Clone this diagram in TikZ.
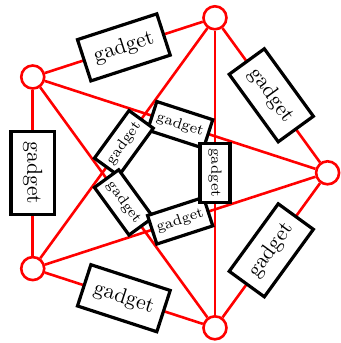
\documentclass[tikz,border=0pt]{standalone}
\usetikzlibrary{calc}
\begin{document}
\begin{tikzpicture}[x=1pt,y=1pt,
  vertex/.style={circle,draw=red,line width=1.3pt,fill=white,minimum size=11.5pt,inner sep=0pt},
  edgeline/.style={red,line width=1.3pt},
  gadget/.style={draw,line width=1.6pt,fill=white,font=\fontsize{10.8}{12}\selectfont,
    minimum width=41.7pt,minimum height=21.7pt,inner sep=1pt},
  smallgadget/.style={gadget,font=\fontsize{7.4}{8}\selectfont,minimum width=29.4pt,minimum height=15pt}]
\useasboundingbox (-82.3,-85.1) rectangle (88.2,86.4);
\def\R{81.5}
\foreach \i in {0,...,4}
  \node[vertex] (v\i) at (72*\i:\R) {};
% cycle and star
\foreach \i/\j in {0/1,1/2,2/3,3/4,4/0,0/2,1/3,2/4,3/0,1/4}
  \draw[edgeline] (v\i) -- (v\j);
% gadgets on the cycle
\foreach \i/\j/\r in {0/1/-54,1/2/18,2/3/-90,3/4/-18,4/0/54}
  \node[gadget,rotate=\r] (g\i\j) at ($(v\i)!0.5!(v\j)$) {gadget};
% gadgets on the star
\foreach \i/\j/\r in {0/2/-18,1/3/54,2/4/-54,3/0/18,1/4/-90}
  \node[smallgadget,rotate=\r] (h\i\j) at ($(v\i)!0.5!(v\j)$) {gadget};
\end{tikzpicture}
\end{document}
